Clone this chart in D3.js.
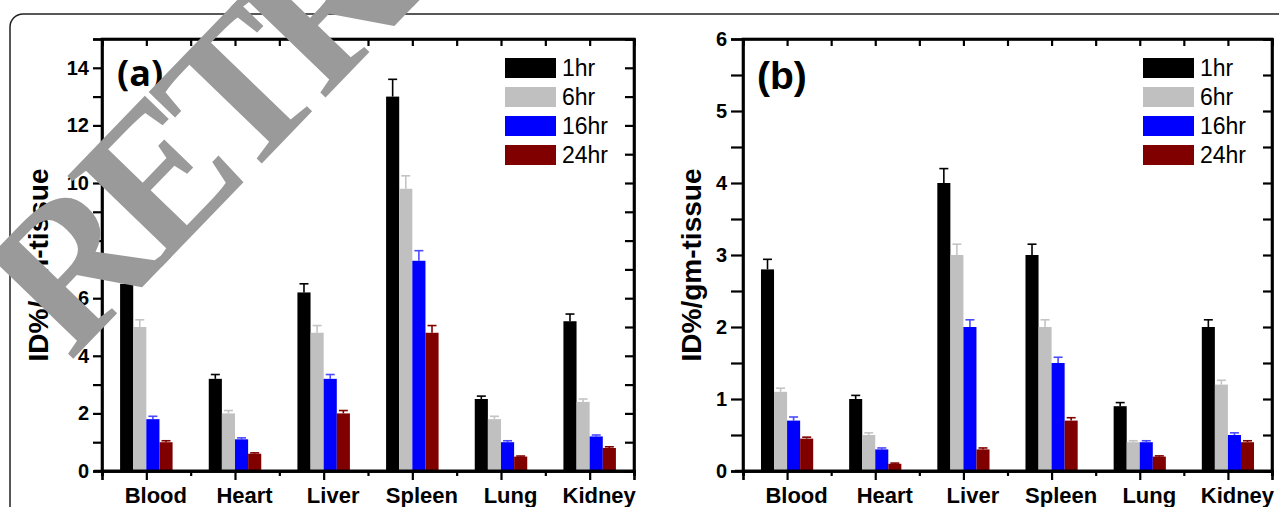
<!DOCTYPE html>
<html>
<head>
<meta charset="utf-8">
<script src="https://cdn.jsdelivr.net/npm/d3@7"></script>
<style>
  body { margin: 0; background: #fff; }
  svg { display: block; }
</style>
</head>
<body>
<svg width="1279" height="507"></svg>
<script>

let organs = ['Blood', 'Heart', 'Liver', 'Spleen', 'Lung', 'Kidney'];
let times = ['1hr', '6hr', '16hr', '24hr'];

// panel (a) : one row per time point, one value per organ
let aValues = [
  [6.5, 3.2, 6.2, 13.0, 2.5, 5.2],
  [5.0, 2.0, 4.8, 9.8, 1.8, 2.4],
  [1.8, 1.1, 3.2, 7.3, 1.0, 1.2],
  [1.0, 0.6, 2.0, 4.8, 0.5, 0.8]
];
let aErrors = [
  [0.3, 0.15, 0.3, 0.6, 0.1, 0.25],
  [0.25, 0.1, 0.25, 0.45, 0.1, 0.1],
  [0.1, 0.05, 0.15, 0.35, 0.05, 0.05],
  [0.05, 0.03, 0.1, 0.25, 0.02, 0.04]
];
let aTicks = [0, 2, 4, 6, 8, 10, 12, 14];

// panel (b)
let bValues = [
  [2.8, 1.0, 4.0, 3.0, 0.9, 2.0],
  [1.1, 0.5, 3.0, 2.0, 0.4, 1.2],
  [0.7, 0.3, 2.0, 1.5, 0.4, 0.5],
  [0.45, 0.1, 0.3, 0.7, 0.2, 0.4]
];
let bErrors = [
  [0.14, 0.05, 0.2, 0.15, 0.05, 0.1],
  [0.05, 0.03, 0.15, 0.1, 0.02, 0.06],
  [0.05, 0.02, 0.1, 0.08, 0.02, 0.03],
  [0.02, 0.01, 0.02, 0.04, 0.01, 0.02]
];
let bTicks = [0, 1, 2, 3, 4, 5, 6];

let fills = ['#000000', '#c0c0c0', '#0000ff', '#800000'];
let errColors = ['#000000', '#c4c4c4', '#4a4aff', '#800000'];

let svg = d3.select('svg');

// outer rounded border
svg.append('rect')
   .attr('x', 10)
   .attr('y', 14)
   .attr('width', 1400)
   .attr('height', 700)
   .attr('rx', 13)
   .attr('fill', 'none')
   .attr('stroke', '#222')
   .attr('stroke-width', 1.5);

drawPanel({
  left: 102, right: 634, top: 39, bottom: 471,
  yMax: 15, minorStep: 1, ticks: aTicks, tickLen: 9,
  values: aValues, errors: aErrors,
  label: '(a)', labelX: 117, labelY: 86, labelSize: 36, labelFont: 'Open Sans',
  titleX: 48
});

drawPanel({
  left: 743, right: 1272, top: 39, bottom: 471,
  yMax: 6, minorStep: 0.5, ticks: bTicks, tickLen: 12,
  values: bValues, errors: bErrors,
  label: '(b)', labelX: 757, labelY: 89, labelSize: 39, labelFont: 'Liberation Sans',
  titleX: 701
});

function drawPanel(p) {

  let xScale = d3.scaleLinear()
                 .domain([0.5, 6.5])
                 .range([p.left, p.right]);

  let yScale = d3.scaleLinear()
                 .domain([0, p.yMax])
                 .range([p.bottom, p.top]);

  let g = svg.append('g');

  let barW = xScale(1.148) - xScale(1);

  // bars and error bars
  p.values.forEach(function(row, s) {
    let series = g.append('g');
    let offset = (s - 1.5) * barW;

    series.selectAll('line.err')
          .data(row)
          .enter()
          .append('line')
          .attr('x1', function(d, i) { return xScale(i + 1) + offset; })
          .attr('x2', function(d, i) { return xScale(i + 1) + offset; })
          .attr('y1', function(d) { return yScale(d); })
          .attr('y2', function(d, i) { return yScale(d + p.errors[s][i]); })
          .attr('stroke', errColors[s])
          .attr('stroke-width', 1.6);

    series.selectAll('line.cap')
          .data(row)
          .enter()
          .append('line')
          .attr('x1', function(d, i) { return xScale(i + 1) + offset - 4.5; })
          .attr('x2', function(d, i) { return xScale(i + 1) + offset + 4.5; })
          .attr('y1', function(d, i) { return yScale(d + p.errors[s][i]); })
          .attr('y2', function(d, i) { return yScale(d + p.errors[s][i]); })
          .attr('stroke', errColors[s])
          .attr('stroke-width', 1.6);

    series.selectAll('rect')
          .data(row)
          .enter()
          .append('rect')
          .attr('x', function(d, i) { return xScale(i + 1) + offset - barW / 2; })
          .attr('y', function(d) { return yScale(d); })
          .attr('width', barW)
          .attr('height', function(d) { return yScale(0) - yScale(d); })
          .attr('fill', fills[s]);
  });

  let minorY = d3.range(0, p.yMax + 0.001, p.minorStep);
  let halfX = d3.range(0.5, 6.51, 0.5);

  // left axis
  let yAxis = d3.axisLeft(yScale)
                .tickValues(minorY)
                .tickSize(p.tickLen)
                .tickPadding(4)
                .tickFormat(function(d) { return p.ticks.indexOf(d) >= 0 ? d : ''; });

  g.append('g')
   .attr('transform', 'translate(' + p.left + ',0)')
   .call(yAxis);

  // right frame, ticks pointing in
  let yAxisR = d3.axisLeft(yScale)
                 .tickValues(minorY)
                 .tickSize(9)
                 .tickFormat('');

  g.append('g')
   .attr('transform', 'translate(' + p.right + ',0)')
   .call(yAxisR);

  // top frame, ticks pointing in
  let xAxisTop = d3.axisBottom(xScale)
                   .tickValues(halfX)
                   .tickSize(7)
                   .tickFormat('');

  g.append('g')
   .attr('transform', 'translate(0,' + p.top + ')')
   .call(xAxisTop);

  // bottom minor ticks
  let xMinor = d3.axisBottom(xScale)
                 .tickValues(d3.range(0.5, 6.51, 1))
                 .tickSize(5)
                 .tickFormat('');

  g.append('g')
   .attr('transform', 'translate(0,' + p.bottom + ')')
   .call(xMinor);

  // bottom axis with organ names
  let xAxis = d3.axisBottom(xScale)
                .tickValues(d3.range(1, 7, 1))
                .tickSize(9)
                .tickFormat(function(d) { return organs[d - 1]; });

  g.append('g')
   .attr('transform', 'translate(0,' + p.bottom + ')')
   .call(xAxis)
   .selectAll('text')
   .attr('y', 32)
   .attr('dy', 0)
   .attr('dx', 9)
   .attr('font-size', 22);

  g.selectAll('.domain')
   .attr('stroke', '#000')
   .attr('stroke-width', 2.6);

  g.selectAll('.tick line')
   .attr('stroke', '#000')
   .attr('stroke-width', 2.2);

  g.selectAll('.tick text')
   .attr('fill', '#000')
   .attr('font-family', 'Liberation Sans, Arial, sans-serif')
   .attr('font-weight', 'bold');

  g.selectAll('g.tick text')
   .filter(function() { return this.getAttribute('font-size') == null; })
   .attr('font-size', 20);

  // x line extends a little left of the y axis
  g.append('line')
   .attr('x1', p.left - 8)
   .attr('x2', p.right)
   .attr('y1', p.bottom)
   .attr('y2', p.bottom)
   .attr('stroke', '#000')
   .attr('stroke-width', 2.6);

  // frame
  g.append('rect')
   .attr('x', p.left)
   .attr('y', p.top)
   .attr('width', p.right - p.left)
   .attr('height', p.bottom - p.top)
   .attr('fill', 'none')
   .attr('stroke', '#000')
   .attr('stroke-width', 2.6);

  // legend
  let legend = g.append('g')
                .attr('transform', 'translate(' + (p.right - 129) + ',58)');

  times.forEach(function(t, s) {
    legend.append('rect')
          .attr('x', 0)
          .attr('y', s * 29)
          .attr('width', 51)
          .attr('height', 20)
          .attr('fill', fills[s]);

    legend.append('text')
          .attr('x', 57)
          .attr('y', s * 29 + 18)
          .attr('font-family', 'Liberation Sans, Arial, sans-serif')
          .attr('font-size', 23)
          .text(t);
  });

  // panel label
  g.append('text')
   .attr('x', p.labelX)
   .attr('y', p.labelY)
   .attr('font-family', p.labelFont)
   .attr('font-weight', 'bold')
   .attr('font-size', p.labelSize)
   .text(p.label);

  // y title
  g.append('text')
   .attr('transform', 'translate(' + p.titleX + ',265) rotate(-90)')
   .attr('text-anchor', 'middle')
   .attr('font-family', 'Liberation Sans, Arial, sans-serif')
   .attr('font-weight', 'bold')
   .attr('font-size', 28)
   .text('ID%/gm-tissue');
}

// watermark over the whole figure
svg.append('text')
   .attr('transform', 'translate(70,362) rotate(-46)')
   .attr('font-family', 'Liberation Serif, Times New Roman, serif')
   .attr('font-weight', 'bold')
   .attr('font-size', 200)
   .attr('letter-spacing', -16)
   .attr('fill', '#9a9a9a')
   .text('RETRACTED');

</script>
</body>
</html>
